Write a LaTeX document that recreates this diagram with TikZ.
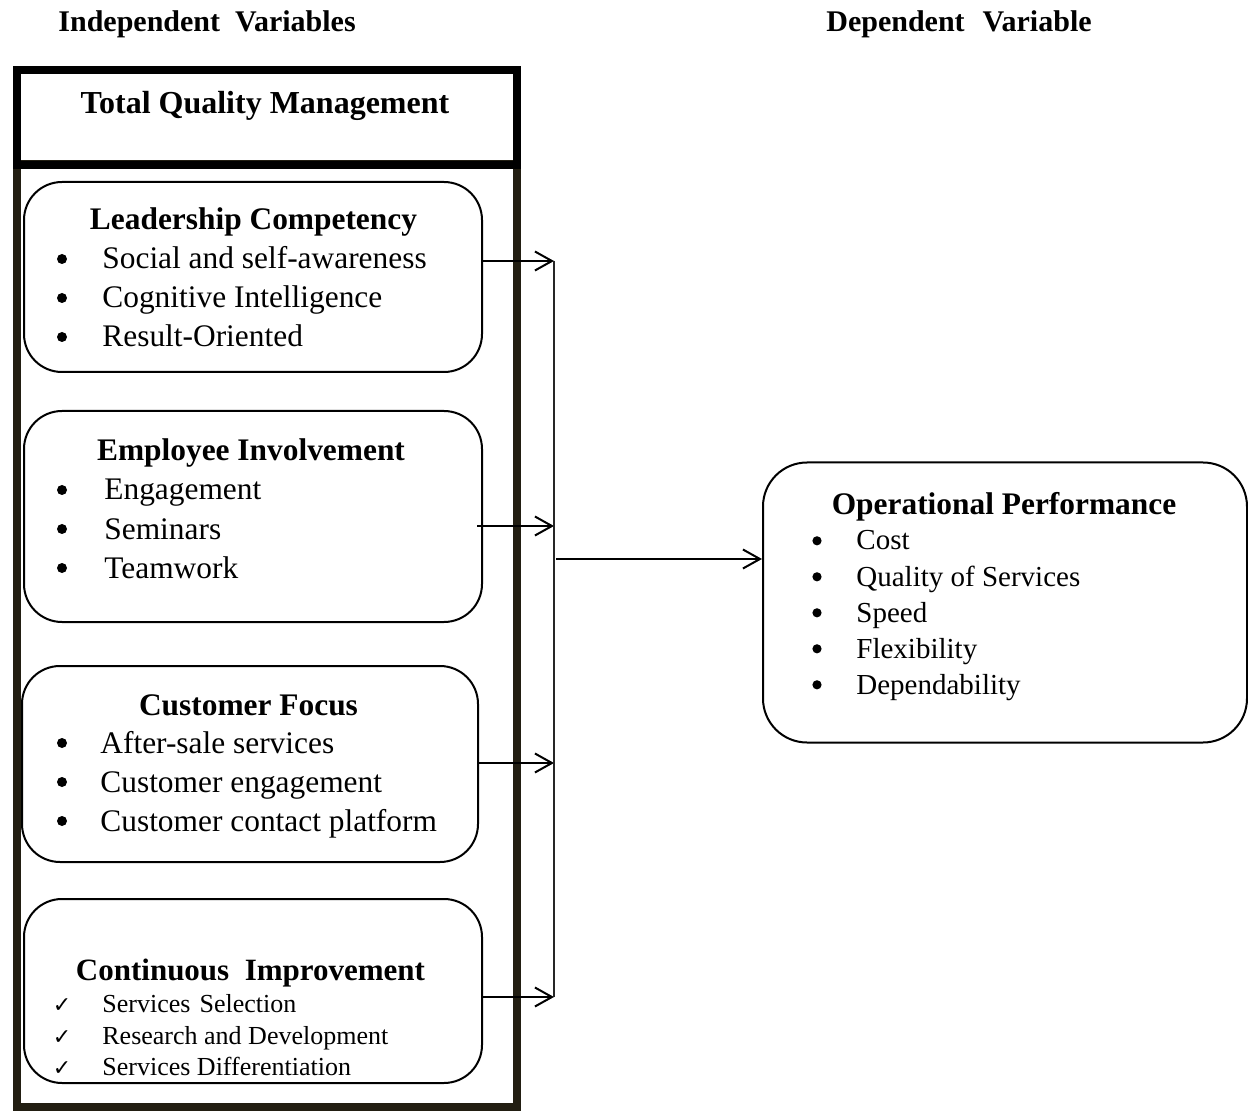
\documentclass[tikz,border=0pt]{standalone}
\usepackage{fontspec}
\setmainfont{Liberation Serif}
\newfontfamily\dejavu{DejaVu Sans}
\usetikzlibrary{arrows.meta}
\definecolor{framedark}{HTML}{221E12}
\begin{document}
\begin{tikzpicture}[x=0.5pt,y=-0.5pt,
  ibox/.style={draw, line width=1pt, rounded corners=19pt, inner sep=0pt},
  frame/.style={draw, line width=4pt, inner sep=0pt},
  toptitle/.style={font=\fontsize{15}{18}\selectfont\bfseries, anchor=base west, inner sep=0pt},
  head/.style={font=\fontsize{15.7}{18}\selectfont\bfseries, anchor=base, inner sep=0pt},
  item/.style={font=\fontsize{15.7}{18}\selectfont, anchor=base west, inner sep=0pt},
  bul/.style={circle, fill=black, inner sep=0pt, minimum size=5pt, yshift=5pt},
  ritem/.style={font=\fontsize{14.5}{17}\selectfont, anchor=base west, inner sep=0pt},
  rbul/.style={circle, fill=black, inner sep=0pt, minimum size=4.6pt, yshift=4.6pt},
  citem/.style={font=\fontsize{13}{15}\selectfont, anchor=base west, inner sep=0pt},
  chk/.style={font=\dejavu\fontsize{11}{12}\selectfont, anchor=base, inner sep=0pt},
  arr/.style={line width=1pt, -{Straight Barb[length=8.5pt,width=9.5pt,line width=1pt]}},
  bus/.style={line width=0.8pt, black!85}
]
\useasboundingbox (0,0) rectangle (1248,1112);

% titles
\node[toptitle] (tind) at (58,32) {Independent\hspace{0.5em}Variables};
\node[toptitle] (tdep) at (826,32) {Dependent\hspace{0.6em}Variable};

% outer frame
\node[frame, draw=framedark, minimum width=250pt, minimum height=471.5pt] (lower) at (267,635.5) {};
\node[frame, draw=black, minimum width=250pt, minimum height=47.5pt] (tqm) at (267,117.5) {};
\node[head, font=\fontsize{16}{19}\selectfont\bfseries] (tqmt) at (265,114) {Total Quality Management};

% box 1
\node[ibox, minimum width=229pt, minimum height=95pt] (lc) at (253,277) {};
\node[head] (lch) at (253.5,230) {Leadership Competency};
\node[bul] (lb1) at (62,269) {}; \node[item] (li1) at (102,269) {Social and self-awareness};
\node[bul] (lb2) at (62,308) {}; \node[item] (li2) at (102,308) {Cognitive Intelligence};
\node[bul] (lb3) at (62,347) {}; \node[item] (li3) at (102,347) {Result-Oriented};

% box 2
\node[ibox, minimum width=229pt, minimum height=105.5pt] (ei) at (253,516.5) {};
\node[head] (eih) at (251,461) {Employee Involvement};
\node[bul] (eb1) at (62,500) {}; \node[item] (ei1) at (104,500) {Engagement};
\node[bul] (eb2) at (62,539) {}; \node[item] (ei2) at (104,539) {Seminars};
\node[bul] (eb3) at (62,578) {}; \node[item] (ei3) at (104,578) {Teamwork};

% box 3
\node[ibox, minimum width=228pt, minimum height=98pt] (cf) at (250,764) {};
\node[head] (cfh) at (248.5,715) {Customer Focus};
\node[bul] (cb1) at (62,753) {}; \node[item] (cf1) at (100,753) {After-sale services};
\node[bul] (cb2) at (62,792) {}; \node[item] (cf2) at (100,792) {Customer engagement};
\node[bul] (cb3) at (62,831) {}; \node[item] (cf3) at (100,831) {Customer contact platform};

% box 4
\node[ibox, minimum width=229pt, minimum height=92pt] (ci) at (253,991) {};
\node[head, font=\fontsize{15.5}{18}\selectfont\bfseries] (cih) at (250.5,980) {Continuous\hspace{0.5em}Improvement};
\node[chk] (kb1) at (62,1012) {✓}; \node[citem] (ci1) at (102,1012) {Services\hspace{0.35em}Selection};
\node[chk] (kb2) at (62,1044) {✓}; \node[citem] (ci2) at (102,1044) {Research and Development};
\node[chk] (kb3) at (62,1075) {✓}; \node[citem] (ci3) at (102,1075) {Services Differentiation};

% right box
\node[ibox, rounded corners=22pt, minimum width=242pt, minimum height=140pt] (op) at (1005,602.5) {};
\node[head] (oph) at (1004,515) {Operational Performance};
\node[rbul] (ob1) at (817,550) {}; \node[ritem] (op1) at (856,550) {Cost};
\node[rbul] (ob2) at (817,586) {}; \node[ritem] (op2) at (856,586) {Quality of Services};
\node[rbul] (ob3) at (817,622) {}; \node[ritem] (op3) at (856,622) {Speed};
\node[rbul] (ob4) at (817,658) {}; \node[ritem] (op4) at (856,658) {Flexibility};
\node[rbul] (ob5) at (817,694) {}; \node[ritem] (op5) at (856,694) {Dependability};

% connectors
\coordinate (b1) at (554,261);
\coordinate (b2) at (554,526);
\coordinate (b3) at (554,763);
\coordinate (b4) at (554,997);
\coordinate (m0) at (556,559);
\draw[arr] (lc.east |- b1) -- (b1);
\draw[arr] ([xshift=-3]ei.east |- b2) -- (b2);
\draw[arr] (cf.east |- b3) -- (b3);
\draw[arr] (ci.east |- b4) -- (b4);
\draw[bus] (b1) -- (b4);
\draw[arr] (m0) -- (op.west |- m0);
\end{tikzpicture}
\end{document}
